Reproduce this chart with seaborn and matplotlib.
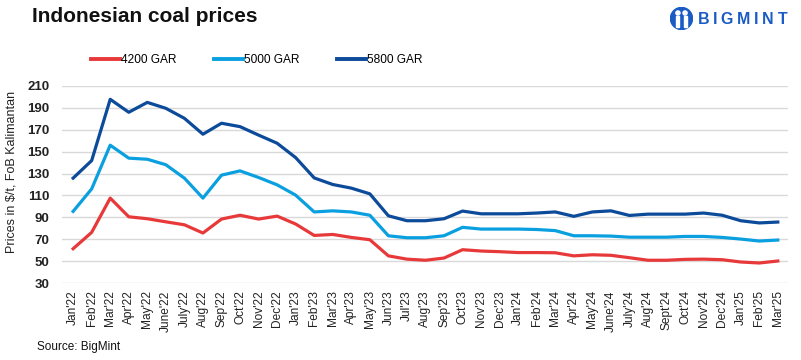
import numpy as np
import pandas as pd
import matplotlib
matplotlib.use("Agg")
import matplotlib.pyplot as plt
import seaborn as sns
from matplotlib.patches import Circle, Rectangle
from matplotlib.lines import Line2D

months = ["Jan'22", "Feb'22", "Mar'22", "Apr'22", "May'22", "June'22", "July'22", "Aug'22",
          "Sep'22", "Oct'22", "Nov'22", "Dec'22", "Jan'23", "Feb'23", "Mar'23", "Apr'23",
          "May'23", "Jun'23", "Jul'23", "Aug'23", "Sep'23", "Oct'23", "Nov'23", "Dec'23",
          "Jan'24", "Feb'24", "Mar'24", "Apr'24", "May'24", "June'24", "July'24", "Aug'24",
          "Sept'24", "Oct'24", "Nov'24", "Dec'24", "Jan'25", "Feb'25", "Mar'25"]

gar4200 = [61.5, 76.4, 107.6, 90.6, 88.8, 86, 83.3, 75.8, 88.5, 92, 88.5, 91.2, 84,
           73.6, 74.5, 71.8, 69.7, 55, 52, 51, 53, 60.6, 59.4, 58.8, 58, 58, 57.8,
           55, 56, 55.5, 53.3, 51, 51, 51.8, 52, 51.5, 49.4, 48.5, 50.3]
gar5000 = [95.5, 116, 155.8, 144, 143, 138, 125.8, 107.6, 128.5, 132.4, 126.4, 119.7, 110.3,
           95, 96, 95, 92, 73.3, 71.5, 71.5, 73.3, 81, 79.4, 79.4, 79.4, 79, 78,
           73.3, 73.3, 73, 72, 72, 72, 72.7, 72.7, 71.8, 70.3, 68.5, 69.4]
gar5800 = [125.8, 141.8, 197.6, 185.8, 194.8, 189.4, 180.3, 165.8, 175.8, 172.7, 165, 157.6, 144.5,
           126, 120, 116.7, 111.5, 91.5, 87, 87, 88.8, 95.8, 93.3, 93.3, 93.3, 94, 95,
           91, 95, 96, 91.8, 93, 93, 93, 94, 92, 87, 85, 85.8]

series_names = ["4200 GAR", "5000 GAR", "5800 GAR"]
colors = ["#e8393a", "#0aa0e0", "#0c4a9a"]
yticks = [30, 50, 70, 90, 110, 130, 150, 170, 190, 210]

df = pd.concat([
    pd.DataFrame({"idx": np.arange(len(months)), "price": vals, "grade": name})
    for name, vals in zip(series_names, [gar4200, gar5000, gar5800])
])

plt.rcParams['font.family'] = ['Liberation Sans', 'DejaVu Sans']
fig = plt.figure(figsize=(8.01, 3.6), dpi=100)
ax = fig.add_axes([62/801, 1-283.3/360, (788-62)/801, (283.3-85.7)/360])

sns.lineplot(data=df, x="idx", y="price", hue="grade", palette=colors,
             hue_order=series_names, linewidth=2.3, ax=ax, legend=False)

ax.set_xlim(-0.6, len(months) - 1 + 0.55)
ax.set_ylim(30, 210)
ax.set_yticks(yticks)
ax.set_yticklabels([str(v) for v in yticks], fontsize=9.5, fontweight='bold', color='#222222')
ax.set_xticks(np.arange(len(months)))
ax.set_xticklabels(months, rotation=90, fontsize=8.6, color='#222222')
ax.tick_params(axis='both', length=0)
ax.tick_params(axis='y', pad=9)
ax.tick_params(axis='x', pad=5)
ax.grid(axis='y', color='#d9d9d9', linewidth=1)
ax.grid(axis='x', visible=False)
ax.set_axisbelow(True)
for s in ax.spines.values():
    s.set_visible(False)
ax.set_xlabel("")
ax.set_ylabel("")

fig.text(12/801, 1-172/360, "Prices in $/t, FoB Kalimantan", rotation=90,
         ha='center', va='center', fontsize=9, color='#222222')

# legend
handles = [Line2D([0], [0], color=c, linewidth=2.8) for c in colors]
fig.legend(handles, series_names, loc='center left', bbox_to_anchor=(91/801, 1-60/360),
           ncol=3, frameon=False, fontsize=8.6, handlelength=2.4, handletextpad=0.15,
           columnspacing=3.1, borderpad=0, borderaxespad=0)

fig.text(32/801, 1-17/360, "Indonesian coal prices", fontsize=15, fontweight='bold',
         ha='left', va='center', color='#111111')
fig.text(37/801, 1-347/360, "Source: BigMint", fontsize=8.5, ha='left', va='center',
         color='#111111')

# logo
logo_letters = ["B", "I", "G", "M", "I", "N", "T"]
logo_x = [703.5, 715, 726.5, 743.5, 756, 768, 783]
for ch, lx in zip(logo_letters, logo_x):
    fig.text(lx/801, 1-19.5/360, ch, fontsize=11.5, fontweight='bold',
             ha='center', va='center', color='#1a5cc4')
lax = fig.add_axes([670/801, 1-30/360, 23/801, 23/360])
lax.set_xlim(0, 1); lax.set_ylim(0, 1); lax.axis('off')
lax.add_patch(Circle((0.5, 0.5), 0.48, color='#1a5cc4', transform=lax.transAxes))
lax.add_patch(Rectangle((0.28, 0.12), 0.13, 0.5, color='white', transform=lax.transAxes))
lax.add_patch(Rectangle((0.59, 0.12), 0.13, 0.5, color='white', transform=lax.transAxes))
lax.add_patch(Circle((0.345, 0.74), 0.09, color='white', transform=lax.transAxes))
lax.add_patch(Circle((0.655, 0.74), 0.09, color='white', transform=lax.transAxes))

fig.savefig("out.png", dpi=100)
